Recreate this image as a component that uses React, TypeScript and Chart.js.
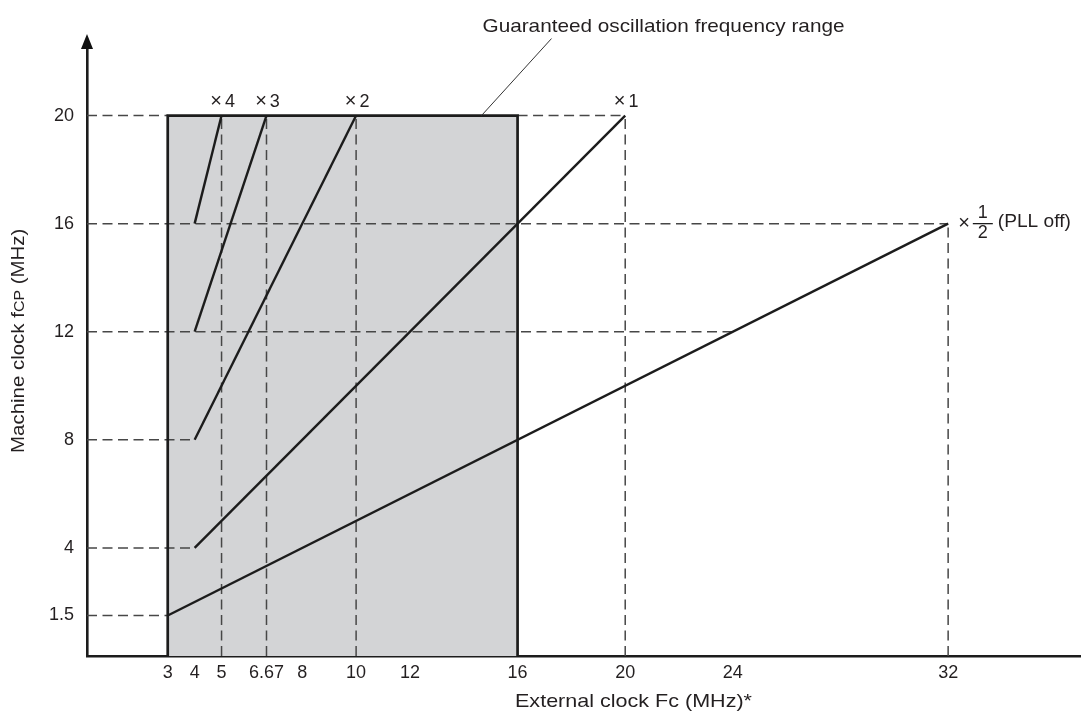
import React, { useEffect, useRef } from "react";
import { Chart, registerables } from "chart.js";

Chart.register(...registerables);

// ---- data ----
const xTickValues = [3, 4, 5, 6.67, 8, 10, 12, 16, 20, 24, 32];
const yTickValues = [1.5, 4, 8, 12, 16, 20];

// multiplier lines
const multLabels = ["4", "3", "2", "1", "1/2"];
const lineStartX = [4, 4, 4, 4, 3];
const lineStartY = [16, 12, 8, 4, 1.5];
const lineEndX = [5, 6.67, 10, 20, 32];
const lineEndY = [20, 20, 20, 20, 16];

// guaranteed band
const bandX = [3, 16];
const bandTop = 20;

// dashed horizontal guides
const hGuideY = [20, 20, 16, 12, 8, 4, 1.5];
const hGuideFrom = [0, 16, 0, 0, 0, 0, 0];
const hGuideTo = [3, 20, 32, 24, 4, 4, 3];

// dashed vertical guides
const vGuideX = [5, 6.67, 10, 20, 32];
const vGuideTop = [20, 20, 20, 20, 16];

const xMax = 36.9;
const yMax = 22.5;

const bandNote = "Guaranteed oscillation frequency range";
const bandNoteAnchorX = 14.66;
const xTitle = "External clock Fc (MHz)*";
const yTitleParts = ["Machine clock f", "CP", " (MHz)"];
const pllNote = "(PLL off)";

const FONT = "'Liberation Sans', Arial, sans-serif";
const TEXT = "#231f20";
const LINE = "#1c1c1c";
const DASH = "#474747";

function stretchText(ctx: any, text: string, x: number, y: number, font: string, target: number, align: string) {
  ctx.save();
  ctx.font = font;
  const w = ctx.measureText(text).width;
  const sx = target / w;
  ctx.translate(x, y);
  ctx.scale(sx, 1);
  ctx.textAlign = align;
  ctx.fillText(text, 0, 0);
  ctx.restore();
  return sx;
}

export default function App() {
  const ref = useRef<HTMLCanvasElement | null>(null);

  useEffect(() => {
    const canvas = ref.current;
    if (!canvas) return;

    const datasets: any[] = [];

    datasets.push({
      data: [
        { x: bandX[0], y: bandTop },
        { x: bandX[1], y: bandTop },
      ],
      borderWidth: 0,
      borderColor: "rgba(0,0,0,0)",
      backgroundColor: "#d3d4d6",
      fill: "origin",
      pointRadius: 0,
      order: 10,
    });

    hGuideY.forEach((y, i) => {
      datasets.push({
        data: [
          { x: hGuideFrom[i], y },
          { x: hGuideTo[i], y },
        ],
        borderColor: DASH,
        borderWidth: 1.5,
        borderDash: [10, 5.5],
        pointRadius: 0,
        fill: false,
        order: 6,
      });
    });

    vGuideX.forEach((x, i) => {
      datasets.push({
        data: [
          { x, y: 0 },
          { x, y: vGuideTop[i] },
        ],
        borderColor: DASH,
        borderWidth: 1.5,
        borderDash: [10, 5.5],
        pointRadius: 0,
        fill: false,
        order: 6,
      });
    });

    datasets.push({
      data: [
        { x: bandX[0], y: 0 },
        { x: bandX[0], y: bandTop },
        { x: bandX[1], y: bandTop },
        { x: bandX[1], y: 0 },
      ],
      borderColor: LINE,
      borderWidth: 2.7,
      pointRadius: 0,
      fill: false,
      order: 3,
    });

    multLabels.forEach((_, i) => {
      datasets.push({
        data: [
          { x: lineStartX[i], y: lineStartY[i] },
          { x: lineEndX[i], y: lineEndY[i] },
        ],
        borderColor: LINE,
        borderWidth: 2.4,
        pointRadius: 0,
        fill: false,
        order: 1,
      });
    });

    const annot = {
      id: "annot",
      afterDraw(chart: any) {
        const ctx = chart.ctx;
        const xs = chart.scales.x;
        const ys = chart.scales.y;
        const area = chart.chartArea;
        ctx.save();
        ctx.strokeStyle = LINE;

        // arrow on y axis
        const ax = area.left;
        ctx.beginPath();
        ctx.moveTo(ax, area.top - 14);
        ctx.lineTo(ax - 6, area.top + 1);
        ctx.lineTo(ax + 6, area.top + 1);
        ctx.closePath();
        ctx.fillStyle = "#111";
        ctx.fill();
        ctx.fillStyle = TEXT;

        // multiplier labels
        multLabels.forEach((lab, i) => {
          const px = xs.getPixelForValue(lineEndX[i]);
          const py = ys.getPixelForValue(lineEndY[i]);
          if (lab.indexOf("/") < 0) {
            ctx.textBaseline = "alphabetic";
            ctx.font = `20px ${FONT}`;
            const w1 = ctx.measureText("×").width;
            ctx.font = `18px ${FONT}`;
            const w2 = ctx.measureText(lab).width;
            const gap = 3;
            const total = w1 + gap + w2;
            const left = px - total / 2 + 1;
            ctx.textAlign = "left";
            ctx.font = `20px ${FONT}`;
            ctx.fillText("×", left, py - 9);
            ctx.font = `18px ${FONT}`;
            ctx.fillText(lab, left + w1 + gap, py - 9);
          } else {
            const [num, den] = lab.split("/");
            let left = px + 10;
            ctx.textAlign = "left";
            ctx.textBaseline = "middle";
            ctx.font = `20px ${FONT}`;
            ctx.fillText("×", left, py);
            left += ctx.measureText("×").width + 3;
            const fw = 20;
            ctx.lineWidth = 1.3;
            ctx.beginPath();
            ctx.moveTo(left, py);
            ctx.lineTo(left + fw, py);
            ctx.stroke();
            ctx.textAlign = "center";
            ctx.font = `18px ${FONT}`;
            ctx.fillText(num, left + fw / 2, py - 11);
            ctx.fillText(den, left + fw / 2, py + 9);
            stretchText(ctx, pllNote, left + fw + 5, py - 2, `18px ${FONT}`, 73, "left");
          }
        });

        // band note + leader
        const lx = xs.getPixelForValue(bandNoteAnchorX);
        const ly = ys.getPixelForValue(bandTop);
        ctx.lineWidth = 1;
        ctx.strokeStyle = "#333";
        ctx.beginPath();
        ctx.moveTo(lx, ly);
        ctx.lineTo(lx + 70, ly - 77);
        ctx.stroke();
        ctx.textBaseline = "middle";
        stretchText(ctx, bandNote, lx + 1, 27, `19px ${FONT}`, 362, "left");

        // x axis title
        stretchText(ctx, xTitle, 515, 702, `19px ${FONT}`, 237, "left");

        // y axis title (rotated)
        ctx.save();
        ctx.translate(19, 453);
        ctx.rotate(-Math.PI / 2);
        ctx.textBaseline = "middle";
        ctx.textAlign = "left";
        ctx.font = `18px ${FONT}`;
        const w1 = ctx.measureText(yTitleParts[0]).width;
        ctx.font = `14px ${FONT}`;
        const w2 = ctx.measureText(yTitleParts[1]).width;
        const sx = 163 / (w1 + w2);
        ctx.scale(sx, 1);
        ctx.font = `18px ${FONT}`;
        ctx.fillText(yTitleParts[0], 0, 0);
        ctx.font = `14px ${FONT}`;
        ctx.fillText(yTitleParts[1], w1, 1);
        ctx.font = `18px ${FONT}`;
        ctx.fillText(yTitleParts[2], w1 + w2, 0);
        ctx.restore();

        ctx.restore();
      },
    };

    const chart = new Chart(canvas, {
      type: "line",
      data: { datasets },
      options: {
        animation: false,
        responsive: false,
        events: [],
        layout: { padding: { top: 48, right: 2, left: 0, bottom: 0 } },
        plugins: {
          legend: { display: false },
          tooltip: { enabled: false },
        },
        scales: {
          x: {
            type: "linear",
            min: 0,
            max: xMax,
            grid: { display: false, drawTicks: false },
            border: { display: true, color: "#1c1c1c", width: 2.6 },
            afterBuildTicks: (s: any) => {
              s.ticks = xTickValues.map((v) => ({ value: v }));
            },
            afterFit: (s: any) => {
              s.height = 62;
            },
            ticks: {
              autoSkip: false,
              maxRotation: 0,
              padding: 6,
              color: TEXT,
              font: { family: FONT, size: 18 },
              callback: (v: any) => String(v),
            },
          },
          y: {
            type: "linear",
            min: 0,
            max: yMax,
            grid: { display: false, drawTicks: false },
            border: { display: true, color: "#1c1c1c", width: 2.6 },
            afterBuildTicks: (s: any) => {
              s.ticks = yTickValues.map((v) => ({ value: v }));
            },
            afterFit: (s: any) => {
              s.width = 87;
            },
            ticks: {
              autoSkip: false,
              padding: 13,
              color: TEXT,
              font: { family: FONT, size: 18 },
              callback: (v: any) => String(v),
            },
          },
        },
      },
      plugins: [annot],
    });

    return () => chart.destroy();
  }, []);

  return (
    <div style={{ position: "fixed", left: 0, top: 0, width: 1082, height: 718, background: "#fff" }}>
      <canvas ref={ref} width={1082} height={718} style={{ display: "block", width: 1082, height: 718 }} />
    </div>
  );
}
